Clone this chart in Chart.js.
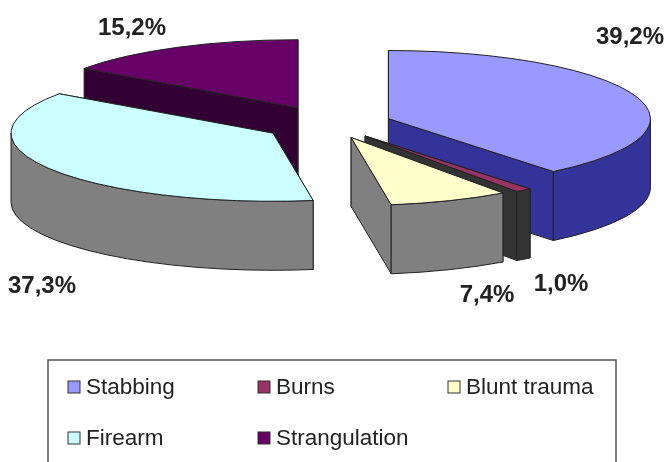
<!DOCTYPE html>
<html>
<head>
<meta charset="utf-8">
<title>Pie</title>
<script src="https://cdn.jsdelivr.net/npm/chart.js@4"></script>
<style>
  html, body { margin: 0; padding: 0; background: #fff; overflow: hidden; }
  canvas { display: block; }
</style>
</head>
<body>
<canvas id="myPieChart" width="667" height="462"></canvas>
<script>
const categories = ['Stabbing', 'Burns', 'Blunt trauma', 'Firearm', 'Strangulation'];
const percentages = [39.2, 1.0, 7.4, 37.3, 15.2];
const colors = ['#9999FF', '#993366', '#FFFFCC', '#CCFFFF', '#660066'];
const wallColors = ['#333399', '#333333', '#808080', '#808080', '#330033'];

const font = 'Arial, "Liberation Sans", sans-serif';

// fake 3D: chart.js works out the angles, the plugin squashes and extrudes each arc
const pie3d = {
    id: 'pie3d',
    beforeDatasetDraw(chart, args, opts) {
        const ctx = chart.ctx;
        const arcs = chart.getDatasetMeta(0).data;
        const k = opts.squash;
        opts.order.forEach(i => {
            const arc = arcs[i];
            const mid = (arc.startAngle + arc.endAngle) / 2;
            const px = arc.x + Math.cos(mid) * opts.explode[i];
            const py = arc.y + Math.sin(mid) * opts.explode[i] * k;
            const r = arc.outerRadius;
            const a0 = arc.startAngle, a1 = arc.endAngle;

            ctx.save();
            ctx.strokeStyle = opts.edge;
            ctx.lineWidth = 1;
            ctx.lineJoin = 'round';
            ctx.fillStyle = wallColors[i];

            // cut faces
            [a0, a1].forEach(a => {
                const ex = px + Math.cos(a) * r, ey = py + Math.sin(a) * r * k;
                ctx.beginPath();
                ctx.moveTo(px, py);
                ctx.lineTo(ex, ey);
                ctx.lineTo(ex, ey + opts.depth);
                ctx.lineTo(px, py + opts.depth);
                ctx.closePath();
                ctx.fill();
                ctx.stroke();
            });

            // rim, only the part that faces us
            const w0 = Math.max(a0, 0), w1 = Math.min(a1, Math.PI);
            if (w1 > w0) {
                ctx.beginPath();
                ctx.ellipse(px, py, r, r * k, 0, w0, w1);
                ctx.ellipse(px, py + opts.depth, r, r * k, 0, w1, w0, true);
                ctx.closePath();
                ctx.fill();
                ctx.stroke();
            }

            // top of the slice, drawn by the arc element itself
            ctx.save();
            ctx.translate(px, py);
            ctx.scale(1, k);
            ctx.translate(-arc.x, -arc.y);
            arc.draw(ctx);
            ctx.restore();

            ctx.beginPath();
            ctx.moveTo(px, py);
            ctx.ellipse(px, py, r, r * k, 0, a0, a1);
            ctx.closePath();
            ctx.stroke();
            ctx.restore();
        });
        return false;
    },
    afterDraw(chart, args, opts) {
        const ctx = chart.ctx;
        ctx.save();
        // percentage labels
        ctx.fillStyle = '#222';
        ctx.font = 'bold 24px ' + font;
        ctx.textAlign = 'center';
        ctx.textBaseline = 'middle';
        percentages.forEach((v, i) => {
            const p = opts.labels[i];
            ctx.fillText(v.toFixed(1).replace('.', ',') + '%', p[0], p[1]);
        });

        // legend box, runs off the bottom like the original
        const box = opts.legend;
        ctx.strokeStyle = '#555';
        ctx.lineWidth = 1.5;
        ctx.strokeRect(box.x, box.y, box.w, box.h);
        ctx.font = '22.5px ' + font;
        ctx.textAlign = 'left';
        categories.forEach((name, i) => {
            const x = box.colX[i % 3], y = box.rowY[Math.floor(i / 3)];
            ctx.fillStyle = colors[i];
            ctx.strokeStyle = '#333';
            ctx.lineWidth = 1;
            ctx.fillRect(x, y - 6, 12, 12);
            ctx.strokeRect(x, y - 6, 12, 12);
            ctx.fillStyle = '#222';
            ctx.fillText(name, x + 18, y + 1);
        });
        ctx.restore();
    }
};

new Chart(document.getElementById('myPieChart'), {
    type: 'pie',
    plugins: [pie3d],
    data: {
        labels: categories,
        datasets: [{
            data: percentages,
            backgroundColor: colors,
            borderWidth: 0
        }]
    },
    options: {
        responsive: false,
        animation: false,
        radius: 262,
        layout: { padding: { right: 7, bottom: 214 } },
        plugins: {
            legend: { display: false },
            tooltip: { enabled: false },
            pie3d: {
                squash: 0.26,
                depth: 69,
                edge: '#222',
                explode: [62, 58, 56, 67, 70],
                order: [4, 3, 0, 1, 2],
                labels: [[630, 37], [561, 284], [487, 295], [42, 286], [132, 28]],
                legend: { x: 48, y: 360, w: 568, h: 120, colX: [68, 258, 448], rowY: [387, 438] }
            }
        }
    }
});
</script>
</body>
</html>
